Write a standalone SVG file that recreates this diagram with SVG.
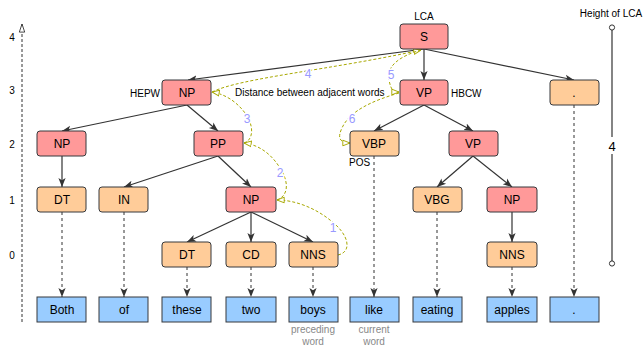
<svg xmlns="http://www.w3.org/2000/svg" width="643" height="347" viewBox="0 0 643 347">
<defs>
<marker id="arr" viewBox="0 0 10 10" refX="10" refY="5" markerWidth="9" markerHeight="9" markerUnits="userSpaceOnUse" orient="auto"><path d="M0,1 L10,5 L0,9 L2.5,5 z" fill="#333"/></marker>
<marker id="open" viewBox="0 0 10 10" refX="9.5" refY="5" markerWidth="8" markerHeight="8" markerUnits="userSpaceOnUse" orient="auto"><path d="M0.5,1.5 L9.5,5 L0.5,8.5 z" fill="#fff" stroke="#a8a800" stroke-width="1.2"/></marker>
<marker id="axis" viewBox="0 0 10 10" refX="9.5" refY="5" markerWidth="9" markerHeight="9" markerUnits="userSpaceOnUse" orient="auto"><path d="M0.5,2 L9.5,5 L0.5,8 z" fill="#fff" stroke="#333" stroke-width="1"/></marker>
</defs>
<style>
text{font-family:"Liberation Sans",Arial,sans-serif;fill:#000}
.n rect{stroke:#36393d;stroke-width:1}
.r rect{fill:#ff9999}
.o rect{fill:#ffcc99}
.b rect{fill:#99ccff}
.n text{font-size:12px;text-anchor:middle}
.e{stroke:#333;stroke-width:1.2;fill:none;marker-end:url(#arr)}
.d{stroke:#333;stroke-width:1;fill:none;stroke-dasharray:3 3;marker-end:url(#arr)}
.y{stroke:#a8a800;stroke-width:1;fill:none;stroke-dasharray:3 2;marker-end:url(#open)}
.lab{font-size:10px}
.num{font-size:12px;fill:#9999ff;text-anchor:middle;stroke:#fff;stroke-width:3;paint-order:stroke}
.ax{font-size:10px;text-anchor:middle}
.gr{font-size:10px;fill:#888;text-anchor:middle}
</style>
<g id="axis-left">
<line x1="22" y1="322" x2="22" y2="24" stroke="#333" stroke-width="1" stroke-dasharray="3 2" marker-end="url(#axis)"/>
<text class="ax" x="12" y="41">4</text>
<text class="ax" x="12" y="94">3</text>
<text class="ax" x="12" y="148">2</text>
<text class="ax" x="12" y="204">1</text>
<text class="ax" x="12" y="259">0</text>
</g>
<g id="axis-right">
<text class="lab" x="611" y="17" text-anchor="middle">Height of LCA</text>
<line x1="612" y1="30" x2="612" y2="261" stroke="#333" stroke-width="1.2"/>
<circle cx="612" cy="27.5" r="2.6" fill="#fff" stroke="#333" stroke-width="1"/>
<circle cx="612" cy="263.5" r="2.6" fill="#fff" stroke="#333" stroke-width="1"/>
<rect x="605" y="137" width="14" height="17" fill="#fff"/>
<text x="612" y="151" font-size="13" text-anchor="middle">4</text>
</g>
<g id="connectors">
<path class="e" d="M424,49 L188,80"/>
<path class="e" d="M424,49 L424,80"/>
<path class="e" d="M424,49 L574,80"/>
<path class="e" d="M187,105 L62,131"/>
<path class="e" d="M187,105 L218,131"/>
<path class="e" d="M62,156 L62,187"/>
<path class="e" d="M218,156 L124,187"/>
<path class="e" d="M218,156 L251,187"/>
<path class="e" d="M251,212 L187,242"/>
<path class="e" d="M251,212 L251,242"/>
<path class="e" d="M251,212 L313,242"/>
<path class="e" d="M424,105 L374,131"/>
<path class="e" d="M424,105 L473,131"/>
<path class="e" d="M473,156 L437,187"/>
<path class="e" d="M473,156 L512,187"/>
<path class="e" d="M512,212 L512,242"/>
<path class="d" d="M62,212 L62,297"/>
<path class="d" d="M124,212 L124,297"/>
<path class="d" d="M187,267 L187,297"/>
<path class="d" d="M251,267 L251,297"/>
<path class="d" d="M313,267 L313,297"/>
<path class="d" d="M374,156 L374,297"/>
<path class="d" d="M437,212 L437,297"/>
<path class="d" d="M512,267 L512,297"/>
<path class="d" d="M574,105 L574,297"/>
<path class="y" d="M338,255 C352,252 350,235 330,220 C315,208 295,200 277,200"/>
<path class="y" d="M277,200 C290,195 288,180 280,168 C272,155 260,145 244,143"/>
<path class="y" d="M244,143 C254,140 254,125 245,113 C237,102 225,94 212,92"/>
<path class="y" d="M212,92 C240,78 330,70 421,50"/>
<path class="y" d="M421,50 C400,56 386,66 389,80 C391,90 393,92 399,92"/>
<path class="y" d="M399,93 C375,100 350,110 342,128 C337,138 340,143 350,143"/>
<text class="num" x="333" y="232">1</text>
<text class="num" x="280" y="177">2</text>
<text class="num" x="247" y="123">3</text>
<text class="num" x="308" y="78">4</text>
<text class="num" x="391" y="79">5</text>
<text class="num" x="352" y="123">6</text>
<text class="lab" x="235" y="96">Distance between adjacent words</text>
</g>
<g id="n-S" class="n r"><rect x="400" y="24" width="48" height="25" rx="3"/><text x="424" y="41">S</text></g>
<text class="lab" x="424" y="20" text-anchor="middle">LCA</text>
<g id="n-NP3" class="n r"><rect x="162" y="80" width="49" height="25" rx="3"/><text x="187" y="97">NP</text></g>
<text class="lab" x="130" y="97">HEPW</text>
<g id="n-VP3" class="n r"><rect x="400" y="80" width="48" height="25" rx="3"/><text x="424" y="97">VP</text></g>
<text class="lab" x="451" y="97">HBCW</text>
<g id="n-dot3" class="n o"><rect x="550" y="80" width="49" height="25" rx="3"/><text x="574" y="97">.</text></g>
<g id="n-NP2" class="n r"><rect x="37" y="131" width="49" height="25" rx="3"/><text x="62" y="148">NP</text></g>
<g id="n-PP" class="n r"><rect x="194" y="131" width="49" height="25" rx="3"/><text x="218" y="148">PP</text></g>
<g id="n-VBP" class="n o"><rect x="350" y="131" width="49" height="25" rx="3"/><text x="374" y="148">VBP</text></g>
<text class="lab" x="349" y="166">POS</text>
<g id="n-VP2" class="n r"><rect x="449" y="131" width="49" height="25" rx="3"/><text x="473" y="148">VP</text></g>
<g id="n-DT1" class="n o"><rect x="37" y="187" width="49" height="25" rx="3"/><text x="62" y="204">DT</text></g>
<g id="n-IN" class="n o"><rect x="99" y="187" width="49" height="25" rx="3"/><text x="124" y="204">IN</text></g>
<g id="n-NP1" class="n r"><rect x="226" y="187" width="50" height="25" rx="3"/><text x="251" y="204">NP</text></g>
<g id="n-VBG" class="n o"><rect x="413" y="187" width="49" height="25" rx="3"/><text x="437" y="204">VBG</text></g>
<g id="n-NP1b" class="n r"><rect x="487" y="187" width="50" height="25" rx="3"/><text x="512" y="204">NP</text></g>
<g id="n-DT0" class="n o"><rect x="162" y="242" width="49" height="25" rx="3"/><text x="187" y="259">DT</text></g>
<g id="n-CD" class="n o"><rect x="226" y="242" width="50" height="25" rx="3"/><text x="251" y="259">CD</text></g>
<g id="n-NNS" class="n o"><rect x="289" y="242" width="49" height="25" rx="3"/><text x="313" y="259">NNS</text></g>
<g id="n-NNS2" class="n o"><rect x="487" y="242" width="50" height="25" rx="3"/><text x="512" y="259">NNS</text></g>
<g id="w-Both" class="n b"><rect x="37" y="297" width="49" height="25"/><text x="62" y="314">Both</text></g>
<g id="w-of" class="n b"><rect x="99" y="297" width="49" height="25"/><text x="124" y="314">of</text></g>
<g id="w-these" class="n b"><rect x="162" y="297" width="49" height="25"/><text x="187" y="314">these</text></g>
<g id="w-two" class="n b"><rect x="226" y="297" width="50" height="25"/><text x="251" y="314">two</text></g>
<g id="w-boys" class="n b"><rect x="289" y="297" width="49" height="25"/><text x="313" y="314">boys</text></g>
<g id="w-like" class="n b"><rect x="350" y="297" width="49" height="25"/><text x="374" y="314">like</text></g>
<g id="w-eating" class="n b"><rect x="413" y="297" width="49" height="25"/><text x="437" y="314">eating</text></g>
<g id="w-apples" class="n b"><rect x="487" y="297" width="50" height="25"/><text x="512" y="314">apples</text></g>
<g id="w-dot" class="n b"><rect x="550" y="297" width="49" height="25"/><text x="574" y="314">.</text></g>
<text class="gr" x="313" y="333">preceding</text>
<text class="gr" x="313" y="345">word</text>
<text class="gr" x="374" y="333">current</text>
<text class="gr" x="374" y="345">word</text>
</svg>
